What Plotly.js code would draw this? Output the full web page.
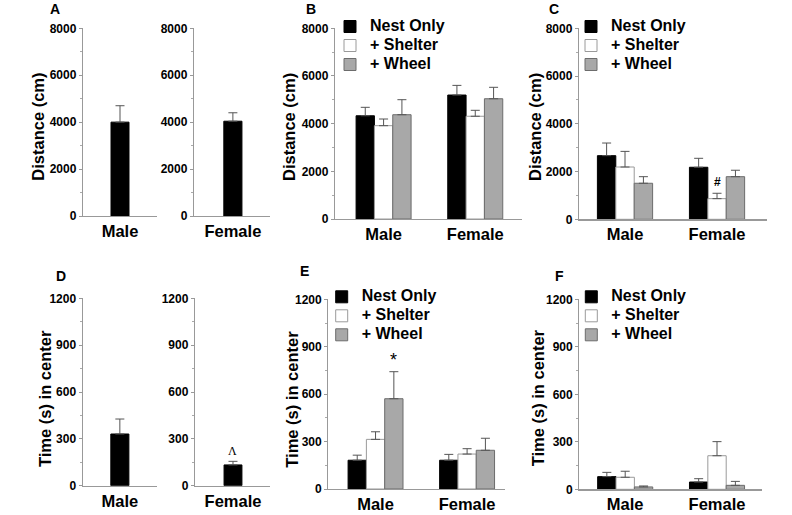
<!DOCTYPE html>
<html>
<head>
<meta charset="utf-8">
<script src="https://cdn.plot.ly/plotly-3.0.1.min.js"></script>
<style>
  body { margin: 0; background: #fff; }
  #chart { width: 792px; height: 515px; }
</style>
</head>
<body>
<div id="chart"></div>
<script>
// ---- data ----
const sexes = ['Male', 'Female'];
const groupNames = ['Nest Only', '+ Shelter', '+ Wheel'];

// A: distance, single housing
const distA = [4000, 4040];
const distAErr = [700, 360];

// B: distance by housing
const distBNest = [4330, 5200];
const distBNestErr = [355, 405];
const distBShelter = [3915, 4310];
const distBShelterErr = [280, 250];
const distBWheel = [4375, 5045];
const distBWheelErr = [630, 480];

// C: distance by housing
const distCNest = [2665, 2180];
const distCNestErr = [530, 375];
const distCShelter = [2190, 865];
const distCShelterErr = [655, 225];
const distCWheel = [1510, 1785];
const distCWheelErr = [275, 270];

// D: time in center, single housing
const timeD = [331, 133];
const timeDErr = [96, 23];

// E: time in center by housing
const timeENest = [182, 182];
const timeENestErr = [32, 37];
const timeEShelter = [314, 221];
const timeEShelterErr = [48, 34];
const timeEWheel = [571, 245];
const timeEWheelErr = [171, 76];

// F: time in center by housing
const timeFNest = [80, 46];
const timeFNestErr = [27, 21];
const timeFShelter = [76, 212];
const timeFShelterErr = [38, 89];
const timeFWheel = [15, 25];
const timeFWheelErr = [6, 25];

// ---- styles ----
const FONT = 'Liberation Sans, Arial, Helvetica, sans-serif';
const W = 792, H = 515;
const fills = ['#000000', '#ffffff', '#a8a8a8'];
const edges = ['#000000', '#9a9a9a', '#6c6c6c'];
const errColor = '#555555';

function px(x) { return x / W; }
function py(y) { return 1 - y / H; }

function errY(arr) {
    return {
        type: 'data', symmetric: false, array: arr, arrayminus: arr.map(() => 0),
        color: errColor, thickness: 1, width: 4.5
    };
}

function single(x, y, err, xa, ya, w) {
    return {
        type: 'bar', x: [x], y: [y], width: w,
        xaxis: xa, yaxis: ya, showlegend: false,
        marker: { color: fills[0], line: { color: edges[0], width: 1 } },
        error_y: errY([err]), hoverinfo: 'y'
    };
}

// legend rows sit closer than plotly allows at this size, so the
// legend font stays small and the label itself carries the size
function legendName(s) {
    return '<span style="font-size:16px">' + s + '</span>';
}

function grouped(vals, errs, xa, ya, legendId) {
    return vals.map((v, i) => ({
        type: 'bar', x: sexes, y: v, name: legendName(groupNames[i]),
        xaxis: xa, yaxis: ya, legend: legendId,
        showlegend: true,
        marker: { color: fills[i], line: { color: edges[i], width: 1 } },
        error_y: errY(errs[i]), hoverinfo: 'y'
    }));
}

let data = [
    single(sexes[0], distA[0], distAErr[0], 'x', 'y', 0.486),
    single(sexes[1], distA[1], distAErr[1], 'x2', 'y2', 0.48),
    ...grouped([distBNest, distBShelter, distBWheel],
        [distBNestErr, distBShelterErr, distBWheelErr], 'x3', 'y3', 'legend'),
    ...grouped([distCNest, distCShelter, distCWheel],
        [distCNestErr, distCShelterErr, distCWheelErr], 'x4', 'y4', 'legend2'),
    single(sexes[0], timeD[0], timeDErr[0], 'x5', 'y5', 0.486),
    single(sexes[1], timeD[1], timeDErr[1], 'x6', 'y6', 0.48),
    ...grouped([timeENest, timeEShelter, timeEWheel],
        [timeENestErr, timeEShelterErr, timeEWheelErr], 'x7', 'y7', 'legend3'),
    ...grouped([timeFNest, timeFShelter, timeFWheel],
        [timeFNestErr, timeFShelterErr, timeFWheelErr], 'x8', 'y8', 'legend4')
];

function xAxis(l, r, range, anchor) {
    return {
        domain: [px(l), px(r)], range: range, anchor: anchor, type: 'category',
        showline: true, linecolor: '#999', linewidth: 1.2, ticks: '',
        ticklabelstandoff: 1.5,
        showgrid: false, zeroline: false, fixedrange: true,
        tickfont: { family: FONT, size: 16.5, color: '#000', weight: 'bold' }
    };
}

function yAxis(top, bottom, max, step, anchor) {
    return {
        domain: [py(bottom), py(top)], range: [0, max], anchor: anchor,
        tickmode: 'linear', tick0: 0, dtick: step,
        showline: true, linecolor: '#999', linewidth: 1.2,
        ticks: 'outside', ticklen: 3, tickcolor: '#999',
        minor: { dtick: step / 2, ticks: 'outside', ticklen: 2, tickcolor: '#aaa' },
        showgrid: false, zeroline: false, fixedrange: true,
        tickfont: { family: FONT, size: 12, color: '#000', weight: 'bold' }
    };
}

function legendAt(symX, rowY) {
    return {
        x: px(symX - 20), y: py(rowY - 16), xanchor: 'left', yanchor: 'top',
        bgcolor: 'rgba(0,0,0,0)', borderwidth: 0, traceorder: 'normal',
        font: { family: FONT, size: 11, color: '#000', weight: 'bold' }
    };
}

function label(text, x, y, size, angle) {
    return {
        text: text, xref: 'paper', yref: 'paper', x: px(x), y: py(y),
        xanchor: 'center', yanchor: 'middle', showarrow: false, textangle: angle || 0,
        font: { family: FONT, size: size, color: '#000', weight: 'bold' }
    };
}

let annotations = [
    label('A', 54.7, 8.7, 14), label('B', 311, 8.7, 14), label('C', 553.5, 8.7, 14),
    label('D', 60.5, 276, 14), label('E', 304, 271, 14), label('F', 559.5, 275.5, 14),
    label('Distance (cm)', 37.7, 127, 16.5, -90),
    label('Distance (cm)', 289, 127, 16.5, -90),
    label('Distance (cm)', 535, 127, 16.5, -90),
    label('Time (s) in center', 45, 399, 16.5, -90),
    label('Time (s) in center', 291.7, 399, 16.5, -90),
    label('Time (s) in center', 538.3, 398, 16.5, -90),
    // significance marks sit on top of their error bars
    {
        text: '#', xref: 'x4', yref: 'y4', x: 1, y: distCShelter[1] + distCShelterErr[1],
        yanchor: 'bottom', yshift: 2, showarrow: false,
        font: { family: FONT, size: 12, color: '#000', weight: 'bold' }
    },
    {
        text: 'Λ', xref: 'x6', yref: 'y6', x: 0, y: timeD[1] + timeDErr[1],
        yanchor: 'bottom', yshift: 1, showarrow: false,
        font: { family: 'Liberation Serif, serif', size: 12, color: '#000' }
    },
    {
        text: '*', xref: 'x7', yref: 'y7', x: 0.2, y: timeEWheel[0] + timeEWheelErr[0],
        yanchor: 'bottom', yshift: 0, showarrow: false,
        font: { family: FONT, size: 18, color: '#000' }
    }
];

let layout = {
    width: W, height: H,
    margin: { l: 0, r: 0, t: 0, b: 0 },
    paper_bgcolor: '#fff', plot_bgcolor: 'rgba(0,0,0,0)',
    barmode: 'group', bargap: 0.4, bargroupgap: 0,
    showlegend: true,
    font: { family: FONT, color: '#000' },
    xaxis: xAxis(83, 157, [-1, 1], 'y'),
    yaxis: yAxis(28.3, 216, 8000, 2000, 'x'),
    xaxis2: xAxis(194, 269.5, [-1.03, 0.97], 'y2'),
    yaxis2: yAxis(28.3, 216, 8000, 2000, 'x2'),
    xaxis3: xAxis(335, 522, [-0.53, 1.51], 'y3'),
    yaxis3: yAxis(28.3, 219, 8000, 2000, 'x3'),
    xaxis4: xAxis(579, 767, [-0.5, 1.543], 'y4'),
    yaxis4: yAxis(28.3, 219.3, 8000, 2000, 'x4'),
    xaxis5: xAxis(82.7, 157, [-1, 1], 'y5'),
    yaxis5: yAxis(298.3, 485.7, 1200, 300, 'x5'),
    xaxis6: xAxis(195, 269.5, [-1.02, 0.98], 'y6'),
    yaxis6: yAxis(298.3, 485.7, 1200, 300, 'x6'),
    xaxis7: xAxis(328.3, 505, [-0.516, 1.414], 'y7'),
    yaxis7: yAxis(299.3, 489, 1200, 300, 'x7'),
    xaxis8: xAxis(579.3, 762, [-0.5, 1.49], 'y8'),
    yaxis8: yAxis(299.3, 489.3, 1200, 300, 'x8'),
    legend: legendAt(350, 28),
    legend2: legendAt(591, 28),
    legend3: legendAt(341.7, 298.3),
    legend4: legendAt(591.3, 298.3),
    annotations: annotations
};

Plotly.newPlot('chart', data, layout, { staticPlot: true, displayModeBar: false });
</script>
</body>
</html>
